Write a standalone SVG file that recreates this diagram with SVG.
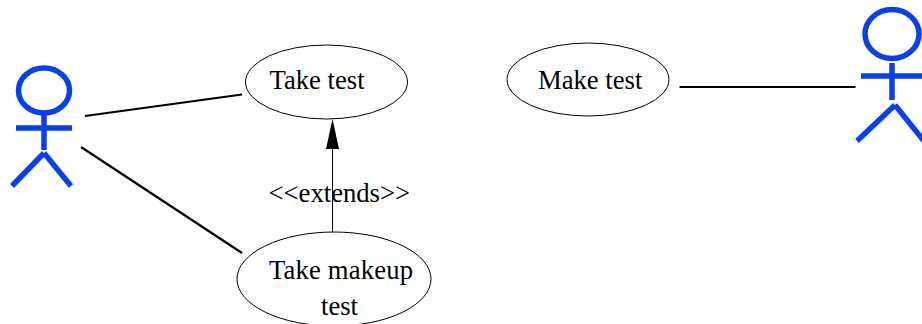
<svg xmlns="http://www.w3.org/2000/svg" width="922" height="324" viewBox="0 0 922 324">
<style>
.actor{fill:none;stroke:#0a3fec;stroke-width:5.5}
.usecase{fill:#fff;stroke:#000;stroke-width:1}
.assoc{fill:none;stroke:#000;stroke-width:2.2}
.ext{fill:none;stroke:#000;stroke-width:1}
text{font-family:"Liberation Serif","Times New Roman",serif;font-size:26.67px;fill:#000}
</style>
<rect width="922" height="324" fill="#fff"/>
<g id="connectors">
<path class="assoc" d="M85 116L242 94.500"/>
<path class="assoc" d="M81 147L242 253"/>
<path class="assoc" d="M679.500 87H855.500"/>
<path class="ext" d="M332.500 232V148"/>
<path d="M332.500 119L339 149H326Z" fill="#000"/>
</g>
<g id="actor-left">
<ellipse class="actor" cx="44" cy="90.500" rx="25.500" ry="22.500"/>
<path class="actor" d="M44 115V150M16 128H72M44 153L12 186M44 153L71 186"/>
</g>
<g id="actor-right">
<ellipse class="actor" cx="892" cy="34" rx="27" ry="24.500"/>
<path class="actor" d="M892 63V100M861 76H922M895 105L857 141M895 105L924 141"/>
</g>
<g id="take-test">
<ellipse class="usecase" cx="326.500" cy="82" rx="81" ry="37"/>
<text x="269.500" y="89">Take test</text>
</g>
<g id="make-test">
<ellipse class="usecase" cx="588" cy="79.500" rx="81" ry="36.500"/>
<text x="538" y="89">Make test</text>
</g>
<g id="take-makeup-test">
<ellipse class="usecase" cx="334" cy="279" rx="97" ry="47"/>
<text x="269" y="279" textLength="144" lengthAdjust="spacing">Take makeup</text>
<text x="321" y="315">test</text>
</g>
<text id="extends-label" x="268.500" y="202">&lt;&lt;extends&gt;&gt;</text>
</svg>
